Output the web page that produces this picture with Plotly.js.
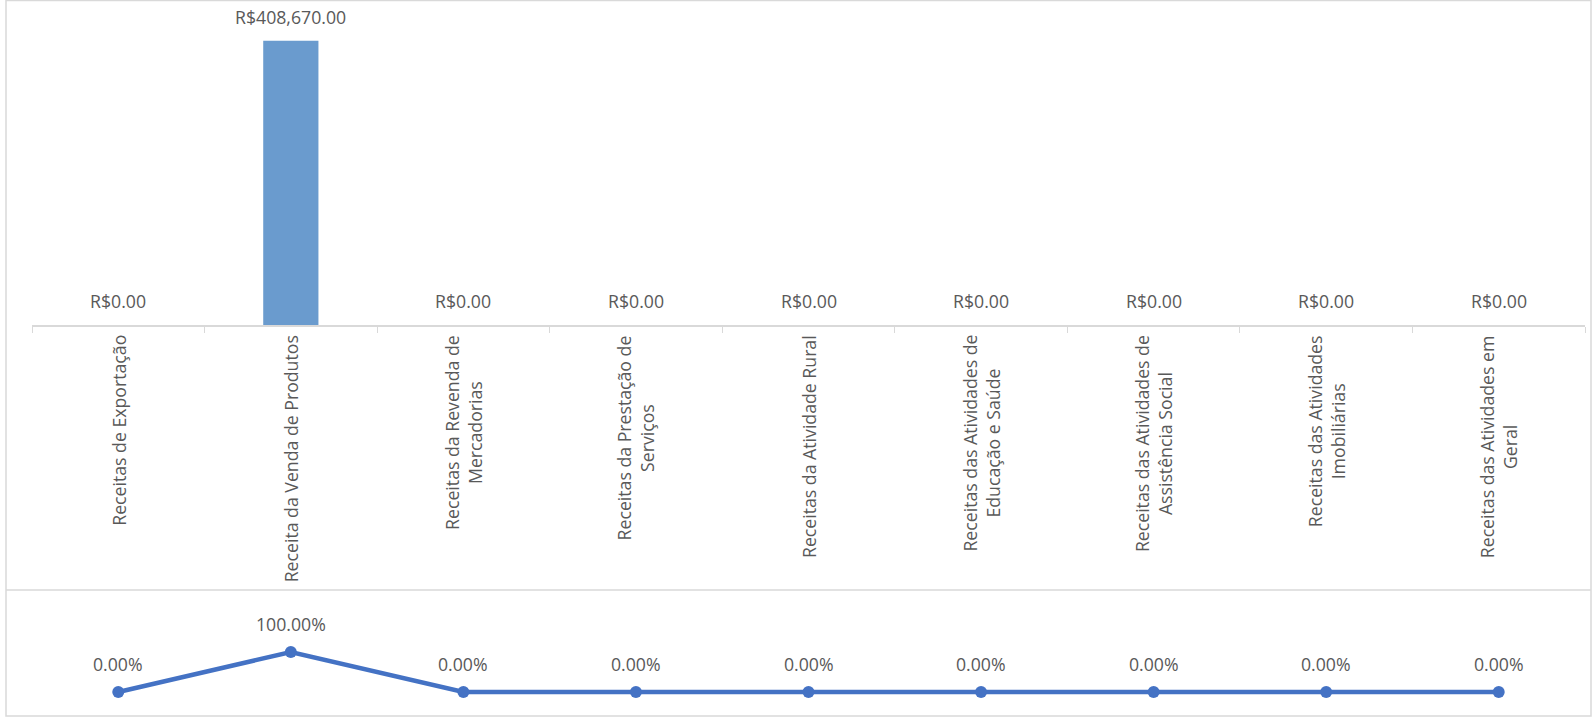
<!DOCTYPE html>
<html>
<head>
<meta charset="utf-8">
<script src="https://cdn.plot.ly/plotly-3.0.1.min.js"></script>
<style>html,body{margin:0;padding:0;background:#fff;}#chart{width:1593px;height:718px;}</style>
</head>
<body>
<div id="chart"></div>
<script>
const categorias = [
  "Receitas de Exportação",
  "Receita da Venda de Produtos",
  "Receitas da Revenda de<br>Mercadorias",
  "Receitas da Prestação de<br>Serviços",
  "Receitas da Atividade Rural",
  "Receitas das Atividades de<br>Educação e Saúde",
  "Receitas das Atividades de<br>Assistência Social",
  "Receitas das Atividades<br>Imobiliárias",
  "Receitas das Atividades em<br>Geral"
];
const valores = [0, 408670, 0, 0, 0, 0, 0, 0, 0];
const percentuais = [0, 1, 0, 0, 0, 0, 0, 0, 0];

const W = 1593, H = 718;
const px = x => x / W;
const py = y => (H - y) / H;
const FONT = "Open Sans, Liberation Sans, sans-serif";
const TXT = "#595959";
const FS = 17.7;

const fmtBRL = v => "R$" + v.toLocaleString("en-US", {minimumFractionDigits: 2, maximumFractionDigits: 2});
const fmtPct = v => (v * 100).toFixed(2) + "%";

const maxV = Math.max(...valores);

const traces = [
  {
    type: "bar", x: categorias, y: valores, xaxis: "x", yaxis: "y",
    marker: {color: "#6A9BCE"}, width: 0.32, hoverinfo: "skip"
  },
  {
    type: "scatter", mode: "lines+markers", x: categorias, y: percentuais, xaxis: "x2", yaxis: "y2",
    line: {color: "#4472C4", width: 4.5}, marker: {color: "#4472C4", size: 12},
    hoverinfo: "skip", cliponaxis: false
  }
];

const annotations = [];
categorias.forEach((c, i) => {
  annotations.push({
    x: c, y: valores[i], xref: "x", yref: "y", text: fmtBRL(valores[i]),
    showarrow: false, yanchor: "bottom", yshift: 10,
    font: {family: FONT, size: FS, color: TXT}
  });
  annotations.push({
    x: c, y: percentuais[i], xref: "x2", yref: "y2", text: fmtPct(percentuais[i]),
    showarrow: false, yanchor: "bottom", yshift: 14,
    font: {family: FONT, size: FS, color: TXT}
  });
  // category label, rotated, lines centred
  annotations.push({
    x: c, y: 0, xref: "x", yref: "y", text: c,
    showarrow: false, textangle: -90, align: "center",
    xanchor: "center", yanchor: "top", yshift: -8,
    font: {family: FONT, size: FS, color: TXT}
  });
});

const layout = {
  width: W, height: H,
  margin: {l: 0, r: 0, t: 0, b: 0},
  paper_bgcolor: "#fff", plot_bgcolor: "rgba(0,0,0,0)",
  showlegend: false,
  font: {family: FONT, color: TXT, size: FS},
  xaxis: {
    domain: [px(32), px(1585)], anchor: "y", type: "category", range: [-0.5, 8.5],
    showline: true, linecolor: "#D9D9D9", linewidth: 1.5,
    ticks: "outside", tickson: "boundaries", ticklen: 6, tickcolor: "#D9D9D9", tickwidth: 1,
    showticklabels: false,
    showgrid: false, zeroline: false, fixedrange: true
  },
  yaxis: {
    domain: [py(325), py(10)], anchor: "x", range: [0, maxV * 1.108],
    visible: false, showgrid: false, zeroline: false, fixedrange: true
  },
  xaxis2: {
    domain: [px(32), px(1585)], anchor: "y2", type: "category", range: [-0.5, 8.5],
    visible: false, showgrid: false, zeroline: false, fixedrange: true
  },
  yaxis2: {
    domain: [py(700), py(590)], anchor: "x2", range: [-0.2, 2.55],
    visible: false, showgrid: false, zeroline: false, fixedrange: true
  },
  annotations: annotations,
  shapes: [
    {type: "rect", xref: "paper", yref: "paper", x0: px(6), x1: px(1591), y0: py(716), y1: py(0.5),
     line: {color: "#D9D9D9", width: 1.5}, fillcolor: "rgba(0,0,0,0)", layer: "below"},
    {type: "line", xref: "paper", yref: "paper", x0: px(6), x1: px(1591), y0: py(590), y1: py(590),
     line: {color: "#D9D9D9", width: 1.5}, layer: "below"}
  ]
};

Plotly.newPlot("chart", traces, layout, {displayModeBar: false, staticPlot: true});
</script>
</body>
</html>
